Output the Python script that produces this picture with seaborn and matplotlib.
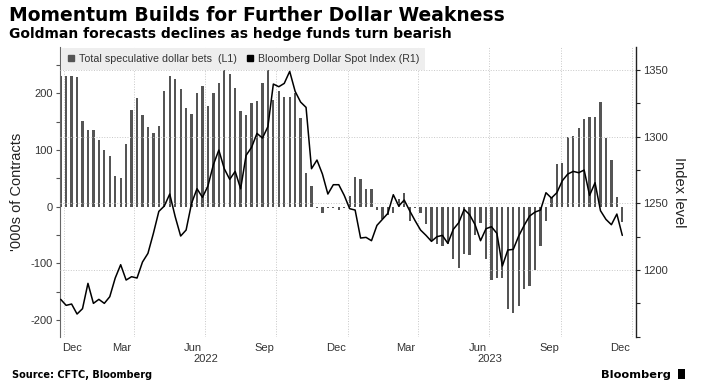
import matplotlib
matplotlib.use('Agg')
import matplotlib.pyplot as plt
import matplotlib.dates as mdates
from matplotlib.lines import Line2D
from matplotlib.patches import Rectangle
from matplotlib.transforms import blended_transform_factory
import numpy as np
import pandas as pd
import seaborn as sns

# Weekly CFTC positioning dates (Tuesdays)
dates = pd.date_range('2021-12-28', periods=104, freq='7D')

# Total speculative dollar bets, '000s of contracts (L1)
dollar_bets = [
    230, 230, 230, 229, 151, 135, 135, 117, 100, 89, 55, 50, 110,
    171, 191, 161, 140, 130, 142, 205, 231, 226, 208, 174, 164, 201,
    213, 178, 201, 219, 241, 234, 210, 168, 162, 183, 186, 219, 243,
    188, 205, 194, 194, 201, 157, 60, 36, -3, -12, -2, -2, -6,
    -2, 18, 52, 48, 32, 31, -6, -22, -15, -12, 13, 25, -26,
    -2, -11, -31, -60, -66, -70, -66, -92, -108, -83, -85, -50, -29,
    -92, -130, -126, -126, -181, -188, -176, -146, -140, -111, -69, -25, 17,
    76, 77, 123, 124, 139, 155, 159, 159, 184, 121, 83, 17, -27,
]

# Bloomberg Dollar Spot Index (R1)
dollar_index = [
    1178, 1173.5, 1174.5, 1167, 1171, 1190, 1175, 1178, 1175, 1180, 1194, 1204, 1192.5,
    1195, 1194, 1206, 1212.5, 1227.5, 1244, 1248, 1257, 1240, 1225.5, 1230, 1250, 1261,
    1254.5, 1263, 1279, 1290, 1276, 1268, 1274, 1261, 1286, 1292, 1302.5, 1299, 1307.5,
    1339.5, 1337.5, 1340, 1349, 1334, 1326, 1322, 1276, 1282.5, 1272, 1257, 1264, 1264,
    1256, 1246, 1245, 1224, 1224.5, 1222, 1233.5, 1238, 1242.5, 1256.5, 1248, 1252.5, 1244.5,
    1237, 1230, 1226, 1221.5, 1225, 1226, 1220, 1230.5, 1235.5, 1245.5, 1241.5, 1234, 1222,
    1231, 1232.5, 1227.5, 1203, 1215, 1215.5, 1225.5, 1233.5, 1240.5, 1243.5, 1245, 1258, 1254,
    1258, 1267, 1272, 1274, 1273, 1275, 1256, 1265.5, 1244.5, 1238, 1234, 1242, 1226,
]

month_labels = ['Mar', 'Jun', 'Sep', 'Dec', 'Mar', 'Jun', 'Sep', 'Dec']
month_label_dates = ['2022-03-16', '2022-06-16', '2022-09-16', '2022-12-16',
                     '2023-03-16', '2023-06-16', '2023-09-16', '2023-12-16']
year_labels = ['2022', '2023']
year_label_dates = ['2022-07-02', '2023-07-02']
quarter_starts = pd.date_range('2022-01-01', '2024-01-01', freq='QS')

BAR_COLOR = '#555555'
TEXT_COLOR = '#333333'

sns.set_style('white')
plt.rcParams['font.family'] = ['Liberation Sans', 'DejaVu Sans']
plt.rcParams['axes.unicode_minus'] = False


def to_num(values):
    return mdates.date2num(pd.to_datetime(values).to_pydatetime())


x = to_num(dates)

fig = plt.figure(figsize=(7.04, 3.92), dpi=100)
ax = fig.add_axes([0.0852, 0.1411, 0.8189, 0.7390])
ax2 = ax.twinx()

# bars on the left axis, index line on the right axis
sns.barplot(x=x, y=dollar_bets, native_scale=True, width=0.42, color=BAR_COLOR,
            saturation=1, errorbar=None, orient='x', linewidth=0, ax=ax)
sns.lineplot(x=x, y=dollar_index, ax=ax2, color='black', linewidth=1.1,
             estimator=None, sort=False)

ax.set_xlim(to_num(['2021-12-27 02:00'])[0], to_num(['2024-01-06 05:00'])[0])
ax.set_ylim(-229.4, 281.8)
ax2.set_ylim(1150, 1367.3)

# x axis: quarter gridlines, month labels centred on the month
ax.set_xticks(to_num(quarter_starts), labels=[''] * len(quarter_starts))
ax.set_xticks(to_num(month_label_dates), labels=month_labels, minor=True)
ax.tick_params(axis='x', which='both', length=0, pad=4.3, labelsize=8,
               labelcolor=TEXT_COLOR)
ax.text(0.004, -0.0207, 'Dec', transform=ax.transAxes, ha='left', va='top',
        fontsize=8, color=TEXT_COLOR)
trans = blended_transform_factory(ax.transData, ax.transAxes)
for lbl, d in zip(year_labels, to_num(year_label_dates)):
    ax.text(d, -0.06, lbl, transform=trans, ha='center', va='top',
            fontsize=8, color=TEXT_COLOR)

# left axis
ax.set_yticks(np.arange(-200, 201, 100))
ax.set_yticks(np.arange(-200, 251, 50), minor=True)
ax.tick_params(axis='y', which='both', direction='out', length=3, width=0.8,
               color='#555555', labelsize=8, labelcolor=TEXT_COLOR, pad=2)
ax.set_ylabel("'000s of Contracts", fontsize=10.5, color='#222222',
              rotation=90, va='center', ha='center')
ax.yaxis.set_label_coords(-0.0737, 0.5)

# right axis
ax2.set_yticks([1150, 1200, 1250, 1300, 1350],
               labels=['', '1200', '1250', '1300', '1350'])
ax2.set_yticks(np.arange(1150, 1351, 25), minor=True)
ax2.tick_params(axis='y', which='both', direction='out', length=3, width=0.8,
                color='#222222', labelsize=8, labelcolor=TEXT_COLOR, pad=1.5)
ax2.set_ylabel('Index level', fontsize=10.5, color='#222222',
               rotation=270, va='center', ha='center')
ax2.yaxis.set_label_coords(1.0737, 0.5)

# grid
grid_kw = dict(color='#c8c8c8', linestyle=':', linewidth=0.7)
ax.grid(False)
ax2.grid(False)
ax.grid(axis='x', which='major', **grid_kw)
ax2.grid(axis='y', which='major', **grid_kw)
ax.set_axisbelow(True)

for side in ['top', 'right', 'bottom']:
    ax.spines[side].set_visible(False)
ax.spines['left'].set_color('#666666')
ax.spines['left'].set_linewidth(0.8)
for side in ['top', 'left', 'bottom']:
    ax2.spines[side].set_visible(False)
ax2.spines['right'].set_color('#222222')
ax2.spines['right'].set_linewidth(1.0)

# legend
handles = [
    Line2D([], [], marker='s', linestyle='none', markersize=5, color=BAR_COLOR),
    Line2D([], [], marker='s', linestyle='none', markersize=5, color='black'),
]
leg = ax2.legend(handles,
                 ['Total speculative dollar bets  (L1)', 'Bloomberg Dollar Spot Index (R1)'],
                 loc='upper left', bbox_to_anchor=(0, 1.0), ncol=2, frameon=True,
                 fancybox=False, facecolor='#eeeeee', edgecolor='none', framealpha=1,
                 fontsize=7.7, handlelength=0.8, handletextpad=0.3,
                 columnspacing=0.9, borderpad=0.55, borderaxespad=0.1)
for t in leg.get_texts():
    t.set_color(TEXT_COLOR)

# titles and footer
fig.text(9 / 704, 1 - 21 / 392, 'Momentum Builds for Further Dollar Weakness',
         fontsize=13.5, fontweight='bold', family='DejaVu Sans', color='black',
         va='baseline', ha='left')
fig.text(9 / 704, 1 - 38.3 / 392, 'Goldman forecasts declines as hedge funds turn bearish',
         fontsize=10, fontweight='bold', family='DejaVu Sans', color='black',
         va='baseline', ha='left')
fig.text(12 / 704, 1 - 377.7 / 392, 'Source: CFTC, Bloomberg',
         fontsize=7, fontweight='bold', family='DejaVu Sans', color='black',
         va='baseline', ha='left')
fig.text(601 / 704, 1 - 378.3 / 392, 'Bloomberg',
         fontsize=8.2, fontweight='bold', family='DejaVu Sans', color='black',
         va='baseline', ha='left')
fig.patches.append(Rectangle((678 / 704, 1 - 379 / 392), 7 / 704, 10 / 392,
                             transform=fig.transFigure, facecolor='black',
                             edgecolor='none'))

fig.savefig('out.png', dpi=100)
